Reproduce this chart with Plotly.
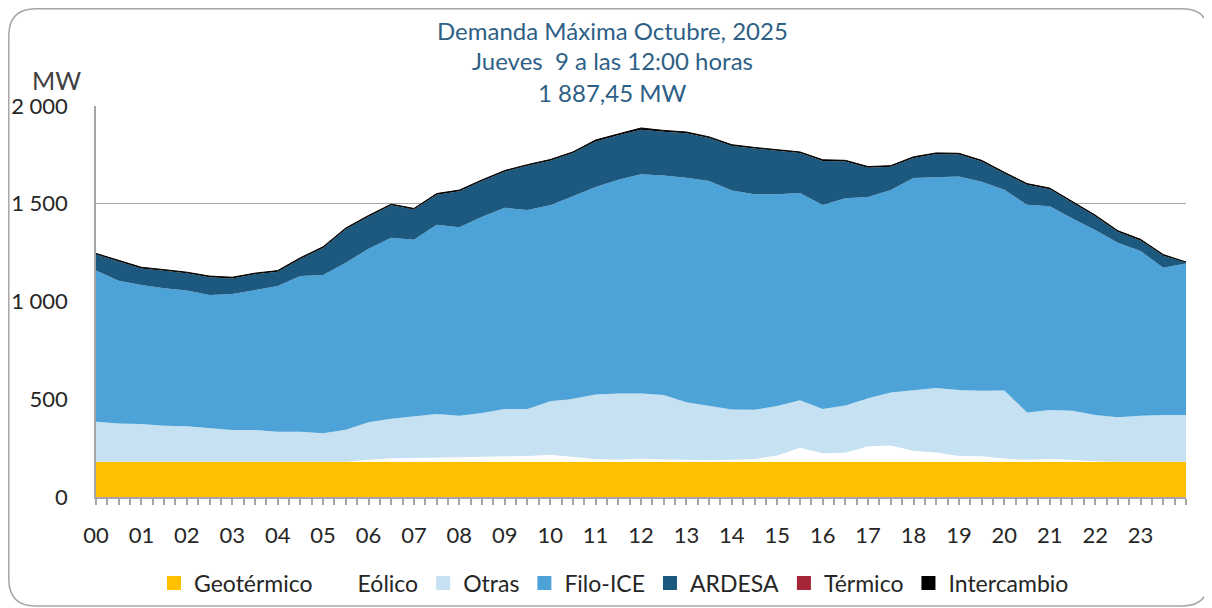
import plotly.graph_objects as go

# Time axis: every 30 minutes from 00:00 to 24:00 (hours)
horas = [i / 2 for i in range(49)]
hour_ticks = list(range(24))
hour_labels = [f"{h:02d}" for h in hour_ticks]

geotermico = [180, 180, 180, 180, 180, 180, 180, 180, 180, 180, 180, 180,
              180, 180, 180, 180, 180, 180, 180, 180, 180, 180, 180, 180,
              180, 180, 180, 180, 180, 180, 180, 180, 180, 180, 180, 180,
              180, 180, 180, 180, 180, 180, 180, 180, 180, 180, 180, 180, 180]
eolico = [0, 0, 0, 0, 3, 0, 0, 0, 0, 0, 0, 0,
          10, 18, 20, 22, 24, 26, 26, 30, 36, 26, 14, 10,
          17, 12, 9, 9, 10, 15, 32, 72, 44, 46, 80, 84,
          57, 48, 30, 28, 17, 10, 16, 9, 3, 0, 0, 0, 0]
otras = [205, 196, 194, 185, 179, 172, 163, 163, 154, 154, 146, 164,
         192, 202, 212, 222, 211, 224, 244, 240, 274, 297, 330, 340,
         333, 330, 296, 277, 257, 251, 254, 243, 226, 242, 245, 271,
         308, 329, 337, 335, 348, 242, 249, 252, 236, 228, 235, 239, 239]
filo_ice = [773, 730, 711, 703, 694, 681, 695, 714, 745, 796, 809, 854,
            888, 926, 904, 969, 965, 1003, 1029, 1018, 1002, 1035, 1062, 1093,
            1121, 1123, 1148, 1150, 1121, 1102, 1082, 1060, 1044, 1060, 1030, 1035,
            1087, 1078, 1093, 1069, 1027, 1063, 1042, 983, 947, 892, 843, 753, 776]
ardesa = [82, 98, 84, 89, 88, 91, 80, 82, 73, 88, 139, 172,
          164, 166, 154, 153, 184, 183, 185, 226, 228, 221, 233, 227,
          228, 223, 227, 220, 228, 234, 223, 204, 225, 188, 149, 119,
          102, 119, 112, 104, 83, 102, 87, 80, 70, 56, 54, 62, 4]
termico = [0, 0, 0, 0, 0, 0, 0, 0, 0, 0, 0, 0,
           0, 0, 0, 0, 0, 0, 0, 0, 0, 0, 0, 0,
           0, 0, 0, 0, 0, 0, 0, 0, 0, 0, 0, 0,
           0, 0, 0, 0, 0, 0, 0, 0, 0, 0, 0, 0, 0]
intercambio = [6, 6, 6, 6, 6, 6, 6, 6, 6, 6, 6, 6,
               6, 6, 6, 6, 6, 6, 6, 6, 6, 6, 7, 7,
               8.45, 7, 7, 6, 6, 6, 6, 6, 6, 6, 6, 6,
               6, 6, 6, 6, 6, 6, 6, 6, 6, 6, 6, 6, 3]

y_ticks = [0, 500, 1000, 1500, 2000]
y_labels = ["0", "500", "1 000", "1 500", "2 000"]

series = [
    ("Geotérmico", geotermico, "#FFC000"),
    ("Eólico", eolico, "#FFFFFF"),
    ("Otras", otras, "#C5E1F2"),
    ("Filo-ICE", filo_ice, "#4DA3D8"),
    ("ARDESA", ardesa, "#1D587E"),
    ("Térmico", termico, "#A52638"),
    ("Intercambio", intercambio, "#000000"),
]

FONT = "Lato"
fig = go.Figure()
for name, vals, col in series:
    lw = 1.0 if name == "Intercambio" else 0
    fig.add_trace(go.Scatter(
        x=horas, y=vals, name=name, mode="lines",
        stackgroup="g", fillcolor=col, legendgroup=name, showlegend=False,
        line=dict(width=lw, color=col),
    ))
# legend entries (square swatches)
for name, vals, col in series:
    fig.add_trace(go.Scatter(
        x=[None], y=[None], name=name, mode="markers", legendgroup=name,
        marker=dict(symbol="square", size=14, color=col),
    ))

# the page body adds an 8px offset; work in page pixel coordinates
OFF = 8
FW, FH = 1212 - OFF, 608 - OFF
PL, PR, PT, PB = 96, 1186, 106, 497   # plot area in page px
L, R, T, B = PL - OFF, FW - (PR - OFF), PT - OFF, FH - (PB - OFF)
W, H = FW - L - R, FH - T - B

def px(xp):
    return (xp - PL) / W

def py(yp):
    return (PB - yp) / H

# rounded outer frame
x0, x1, y0, y1 = px(OFF + 0.8), px(1209), py(606), py(OFF + 0.8)
rx, ry = 27 / W, 27 / H
path = (f"M {x0+rx},{y1} L {x1-rx},{y1} Q {x1},{y1} {x1},{y1-ry} "
        f"L {x1},{y0+ry} Q {x1},{y0} {x1-rx},{y0} "
        f"L {x0+rx},{y0} Q {x0},{y0} {x0},{y0+ry} "
        f"L {x0},{y1-ry} Q {x0},{y1} {x0+rx},{y1} Z")

title_col = "#2E5F86"
fig.update_layout(
    width=FW, height=FH,
    margin=dict(l=L, r=R, t=T, b=B, autoexpand=False),
    paper_bgcolor="white", plot_bgcolor="white",
    font=dict(family=FONT, color="#262626"),
    showlegend=True,
    legend=dict(orientation="h", x=px(614), xanchor="center",
                y=py(583), yanchor="middle", traceorder="normal",
                font=dict(size=23, color="#262626", family=FONT)),
    shapes=[dict(type="path", xref="paper", yref="paper", path=path,
                 line=dict(color="#A6A6A6", width=1.5), layer="below")],
    annotations=[
        dict(text="Demanda Máxima Octubre, 2025", x=px(612), y=py(30),
             xref="paper", yref="paper", showarrow=False, yanchor="middle",
             font=dict(size=24, color=title_col, family=FONT)),
        dict(text="Jueves  9 a las 12:00 horas", x=px(612), y=py(61),
             xref="paper", yref="paper", showarrow=False, yanchor="middle",
             font=dict(size=24, color=title_col, family=FONT)),
        dict(text="1 887,45 MW", x=px(612), y=py(92),
             xref="paper", yref="paper", showarrow=False, yanchor="middle",
             font=dict(size=24, color=title_col, family=FONT)),
        dict(text="MW", x=px(30), y=py(80), xref="paper", yref="paper",
             showarrow=False, yanchor="middle", xanchor="left",
             font=dict(size=25, color="#404040", family=FONT)),
    ],
)
fig.update_xaxes(
    range=[0, 24], tickvals=hour_ticks, ticktext=hour_labels,
    showgrid=False, zeroline=False,
    showline=True, linecolor="#A6A6A6", linewidth=1.5,
    ticks="outside", ticklen=6, tickcolor="#A6A6A6", tickwidth=1.5,
    minor=dict(dtick=0.25, tick0=0, ticks="outside", ticklen=6,
               tickcolor="#A6A6A6", tickwidth=1.5, showgrid=False),
    ticklabelstandoff=12,
    tickfont=dict(size=22, color="#262626", family=FONT),
)
fig.update_yaxes(
    range=[0, 2000], tickvals=y_ticks, ticktext=y_labels,
    showgrid=True, gridcolor="#A6A6A6", gridwidth=1,
    zeroline=False, showline=True, linecolor="#A6A6A6", linewidth=1.5,
    ticks="", ticklabelstandoff=22,
    tickfont=dict(size=22, color="#262626", family=FONT),
)

fig.write_html("out.html")
